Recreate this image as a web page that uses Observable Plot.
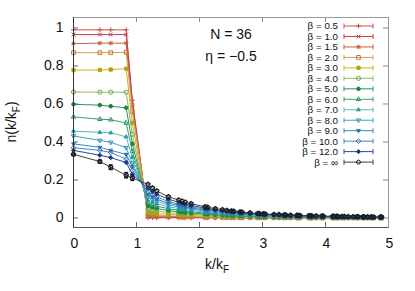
<!DOCTYPE html>
<html><head><meta charset="utf-8">
<script src="https://cdn.jsdelivr.net/npm/d3@7"></script>
<script src="https://cdn.jsdelivr.net/npm/@observablehq/plot@0.6"></script>
<style>body{margin:0;background:#fff;} #chart{width:415px;height:291px;}</style>
</head><body><div id="chart"></div>
<script>
// momentum grid k/kF (2D shells)
const kValues = [0,0.418,0.591,0.836,0.934,
 1.182,1.253,1.321,1.506,1.671,1.723,1.772,1.868,
 2.089,2.130,2.250,2.363,2.436,2.507,2.541,2.642,2.675,2.803,2.924,2.954,
 3.013,3.042,3.182,3.263,3.342,3.368,3.445,3.545,3.570,3.594,3.737,3.760,3.783,3.852,3.941,3.963,
 4.115,4.136,4.178,4.199,4.261,4.301,4.362,4.441,4.500,4.519,4.596,4.615,4.671,4.727,4.763,4.872,4.890];

const betaLabels = ["β = 0.5","β = 1.0","β = 1.5","β = 2.0","β = 3.0","β = 4.0","β = 5.0","β = 6.0","β = 7.0","β = 8.0","β = 9.0","β = 10.0","β = 12.0","β = ∞"];

const n_b05 = [0.990,0.990,0.990,0.990,0.62,
 0.002,0.002,0.001,0.001,0.001,0.001,0.001,0.001,
 0.001,0.001,0.001,0.001,0.001,0.001,0.001,0.001,0.001,0.001,0.001,0.001,
 0.001,0.001,0.001,0.001,0.001,0.001,0.001,0.001,0.001,0.001,0.001,0.001,0.001,0.001,0.001,0.001,
 0.001,0.001,0.001,0.001,0.001,0.001,0.001,0.001,0.001,0.001,0.001,0.001,0.001,0.001,0.001,0.001,0.001];
const n_b10 = [0.965,0.965,0.965,0.965,0.61,
 0.005,0.005,0.004,0.003,0.003,0.003,0.002,0.002,
 0.002,0.002,0.002,0.002,0.002,0.002,0.001,0.001,0.001,0.001,0.001,0.001,
 0.001,0.001,0.001,0.001,0.001,0.001,0.001,0.001,0.001,0.001,0.001,0.001,0.001,0.001,0.001,0.001,
 0.001,0.001,0.001,0.001,0.001,0.001,0.001,0.001,0.001,0.001,0.001,0.001,0.001,0.001,0.001,0.001,0.001];
const n_b15 = [0.918,0.920,0.920,0.920,0.59,
 0.012,0.011,0.010,0.008,0.007,0.006,0.006,0.005,
 0.004,0.004,0.003,0.003,0.003,0.003,0.003,0.002,0.002,0.002,0.002,0.002,
 0.002,0.001,0.001,0.001,0.001,0.001,0.001,0.001,0.001,0.001,0.001,0.001,0.001,0.001,0.001,0.001,
 0.001,0.001,0.001,0.001,0.001,0.001,0.001,0.001,0.001,0.001,0.001,0.001,0.001,0.001,0.001,0.001,0.001];
const n_b20 = [0.870,0.870,0.870,0.872,0.56,
 0.018,0.016,0.014,0.011,0.009,0.009,0.008,0.008,
 0.006,0.006,0.005,0.004,0.004,0.004,0.004,0.003,0.003,0.003,0.002,0.002,
 0.002,0.002,0.002,0.002,0.002,0.002,0.002,0.002,0.001,0.001,0.001,0.001,0.001,0.001,0.001,0.001,
 0.001,0.001,0.001,0.001,0.001,0.001,0.001,0.001,0.001,0.001,0.001,0.001,0.001,0.001,0.001,0.001,0.001];
const n_b30 = [0.778,0.779,0.781,0.786,0.50,
 0.030,0.027,0.024,0.019,0.016,0.015,0.014,0.013,
 0.010,0.010,0.008,0.007,0.007,0.006,0.006,0.005,0.005,0.005,0.004,0.004,
 0.004,0.004,0.003,0.003,0.003,0.003,0.003,0.002,0.002,0.002,0.002,0.002,0.002,0.002,0.002,0.002,
 0.002,0.002,0.002,0.001,0.001,0.001,0.001,0.001,0.001,0.001,0.001,0.001,0.001,0.001,0.001,0.001,0.001];
const n_b40 = [0.663,0.662,0.662,0.662,0.44,
 0.046,0.041,0.037,0.029,0.024,0.023,0.022,0.020,
 0.015,0.015,0.013,0.011,0.010,0.010,0.009,0.008,0.008,0.007,0.006,0.006,
 0.006,0.005,0.005,0.005,0.004,0.004,0.004,0.004,0.003,0.003,0.003,0.003,0.003,0.003,0.003,0.003,
 0.002,0.002,0.002,0.002,0.002,0.002,0.002,0.002,0.002,0.002,0.002,0.002,0.002,0.002,0.001,0.001,0.001];
const n_b50 = [0.598,0.594,0.588,0.580,0.39,
 0.062,0.055,0.050,0.039,0.033,0.031,0.029,0.026,
 0.021,0.020,0.017,0.015,0.014,0.013,0.013,0.011,0.011,0.009,0.008,0.008,
 0.008,0.007,0.007,0.006,0.006,0.006,0.005,0.005,0.005,0.005,0.004,0.004,0.004,0.004,0.004,0.004,
 0.003,0.003,0.003,0.003,0.003,0.003,0.002,0.002,0.002,0.002,0.002,0.002,0.002,0.002,0.002,0.002,0.002];
const n_b60 = [0.532,0.520,0.517,0.500,0.35,
 0.078,0.070,0.062,0.049,0.041,0.039,0.037,0.033,
 0.026,0.025,0.022,0.019,0.018,0.016,0.016,0.014,0.014,0.012,0.011,0.010,
 0.010,0.009,0.008,0.008,0.007,0.007,0.007,0.006,0.006,0.006,0.005,0.005,0.005,0.005,0.004,0.004,
 0.004,0.004,0.004,0.004,0.004,0.004,0.003,0.003,0.003,0.003,0.003,0.003,0.003,0.003,0.002,0.002,0.002];
const n_b70 = [0.457,0.451,0.448,0.427,0.32,
 0.094,0.084,0.075,0.059,0.050,0.047,0.044,0.040,
 0.031,0.030,0.026,0.023,0.021,0.020,0.019,0.017,0.016,0.014,0.013,0.012,
 0.012,0.011,0.010,0.010,0.008,0.008,0.008,0.007,0.007,0.007,0.006,0.006,0.006,0.006,0.005,0.005,
 0.005,0.005,0.005,0.004,0.004,0.004,0.004,0.004,0.004,0.004,0.003,0.003,0.003,0.003,0.003,0.003,0.003];
const n_b80 = [0.432,0.408,0.398,0.370,0.29,
 0.110,0.098,0.088,0.069,0.058,0.055,0.051,0.047,
 0.037,0.035,0.030,0.027,0.025,0.023,0.022,0.020,0.019,0.017,0.015,0.014,
 0.014,0.013,0.012,0.011,0.010,0.010,0.009,0.009,0.008,0.008,0.007,0.007,0.007,0.007,0.006,0.006,
 0.006,0.006,0.006,0.005,0.005,0.005,0.004,0.004,0.004,0.004,0.004,0.004,0.004,0.004,0.003,0.003,0.003];
const n_b90 = [0.390,0.372,0.356,0.335,0.27,
 0.124,0.111,0.099,0.078,0.066,0.062,0.058,0.053,
 0.041,0.039,0.034,0.031,0.028,0.026,0.025,0.022,0.022,0.019,0.017,0.016,
 0.015,0.015,0.013,0.013,0.011,0.011,0.011,0.010,0.009,0.009,0.008,0.008,0.008,0.008,0.007,0.007,
 0.006,0.006,0.006,0.006,0.006,0.006,0.005,0.005,0.005,0.005,0.004,0.004,0.004,0.004,0.004,0.004,0.004];
const n_b100 = [0.370,0.356,0.345,0.310,0.25,
 0.138,0.123,0.111,0.087,0.073,0.069,0.065,0.059,
 0.046,0.044,0.038,0.034,0.031,0.029,0.028,0.025,0.024,0.021,0.019,0.018,
 0.017,0.016,0.015,0.014,0.012,0.012,0.012,0.011,0.010,0.010,0.009,0.009,0.009,0.009,0.008,0.008,
 0.007,0.007,0.007,0.006,0.006,0.006,0.005,0.005,0.005,0.005,0.005,0.005,0.005,0.005,0.004,0.004,0.004];
const n_b120 = [0.356,0.330,0.318,0.292,0.23,
 0.156,0.139,0.125,0.099,0.083,0.077,0.073,0.066,
 0.052,0.049,0.043,0.039,0.035,0.033,0.032,0.028,0.027,0.024,0.021,0.020,
 0.019,0.018,0.017,0.016,0.014,0.014,0.013,0.012,0.011,0.011,0.011,0.011,0.010,0.010,0.009,0.009,
 0.008,0.008,0.008,0.007,0.007,0.007,0.006,0.006,0.006,0.006,0.005,0.005,0.005,0.005,0.004,0.004,0.004];
const n_inf = [0.335,0.297,0.267,0.225,0.21,
 0.177,0.158,0.142,0.112,0.094,0.088,0.083,0.075,
 0.059,0.056,0.049,0.044,0.040,0.037,0.036,0.032,0.031,0.027,0.024,0.023,
 0.022,0.021,0.019,0.018,0.016,0.016,0.015,0.014,0.013,0.013,0.012,0.012,0.011,0.011,0.010,0.010,
 0.009,0.009,0.009,0.008,0.008,0.008,0.007,0.007,0.007,0.007,0.006,0.006,0.006,0.006,0.005,0.005,0.005];
// error bars of beta = infinity (first shells)
const err_inf = [0.004,0.008,0.012,0.014,0.012];

const yTicks = [0,0.2,0.4,0.6,0.8,1];
const xTicks = [0,1,2,3,4,5];

const allSeries = [n_b05,n_b10,n_b15,n_b20,n_b30,n_b40,n_b50,n_b60,n_b70,n_b80,n_b90,n_b100,n_b120,n_inf];
const colors = ["#c8504a","#c23c4c","#c4603c","#d49a5c","#c8b818","#8cbc64","#2e9450","#3aa068","#5cb8b8","#3ca4cc","#3688c0","#4f82b4","#24489a","#404040"];
const markColors = ["#c8504a","#c23c4c","#c4603c","#c87830","#b4a400","#70a850","#1e8040","#22905a","#20a0a0","#3090c0","#2878b0","#3870a8","#183880","#1c1c24"];

const S = s => Math.sqrt(s / Math.PI);
const sym = {
  plus:{draw(c,s){const r=S(s)*1.2;c.moveTo(-r,0);c.lineTo(r,0);c.moveTo(0,-r);c.lineTo(0,r);}},
  times:{draw(c,s){const r=S(s)*0.9;c.moveTo(-r,-r);c.lineTo(r,r);c.moveTo(-r,r);c.lineTo(r,-r);}},
  star:{draw(c,s){const r=S(s)*1.1,q=r*0.75;c.moveTo(-r,0);c.lineTo(r,0);c.moveTo(0,-r);c.lineTo(0,r);c.moveTo(-q,-q);c.lineTo(q,q);c.moveTo(-q,q);c.lineTo(q,-q);}},
  square:{draw(c,s){const r=S(s)*0.9;c.moveTo(-r,-r);c.lineTo(r,-r);c.lineTo(r,r);c.lineTo(-r,r);c.closePath();}},
  circle:{draw(c,s){const r=S(s);c.moveTo(r,0);c.arc(0,0,r,0,2*Math.PI);c.closePath();}},
  triUp:{draw(c,s){const r=S(s)*1.2;c.moveTo(0,-r);c.lineTo(r*0.866,r*0.5);c.lineTo(-r*0.866,r*0.5);c.closePath();}},
  triDown:{draw(c,s){const r=S(s)*1.2;c.moveTo(0,r);c.lineTo(r*0.866,-r*0.5);c.lineTo(-r*0.866,-r*0.5);c.closePath();}},
  diamond:{draw(c,s){const r=S(s)*1.15;c.moveTo(0,-r);c.lineTo(r,0);c.lineTo(0,r);c.lineTo(-r,0);c.closePath();}},
  pentagon:{draw(c,s){const r=S(s)*1.05;for(let i=0;i<5;i++){const a=-Math.PI/2+i*2*Math.PI/5;const x=r*Math.cos(a),y=r*Math.sin(a);if(i)c.lineTo(x,y);else c.moveTo(x,y);}c.closePath();}},
  cap:{draw(c,s){c.moveTo(-2,0);c.lineTo(2,0);}}
};
const markerTypes = [["plus",0],["times",0],["star",0],["square",0],["square",1],["circle",0],["circle",1],["triUp",0],["triUp",1],["triDown",0],["triDown",1],["diamond",0],["diamond",1],["pentagon",0]];
const rOpen = 2.1, rFilled = 1.8;

const rowsFor = i => allSeries[i].map((v,j)=>({k:kValues[j], n:v}));
const errRows = err_inf.map((e,j)=>({k:kValues[j], lo:n_inf[j]-e, hi:n_inf[j]+e}));

const W=415,H=291,ML=73,MR=27,MT=17,MB=64;
const FW=W-ML-MR, FH=H-MT-MB;
const yDomain=[-0.05,1.055];

const marks = [];
marks.push(Plot.ruleY(yTicks,{stroke:"#666",insetRight:FW-5}));
marks.push(Plot.ruleY(yTicks,{stroke:"#888",insetLeft:FW-5}));
marks.push(Plot.ruleX(xTicks,{stroke:"#666",insetTop:FH-5}));
marks.push(Plot.ruleX(xTicks,{stroke:"#888",insetBottom:FH-5}));
allSeries.forEach((_,i)=>{
  const rows=rowsFor(i);
  const [st,filled]=markerTypes[i];
  marks.push(Plot.line(rows,{x:"k",y:"n",stroke:colors[i],strokeWidth:1}));
  if(i===allSeries.length-1){
    marks.push(Plot.ruleX(errRows,{x:"k",y1:"lo",y2:"hi",stroke:markColors[i],strokeWidth:1}));
    marks.push(Plot.dot(errRows,{x:"k",y:"lo",symbol:sym.cap,r:2,stroke:markColors[i]}));
    marks.push(Plot.dot(errRows,{x:"k",y:"hi",symbol:sym.cap,r:2,stroke:markColors[i]}));
  }
  marks.push(Plot.dot(rows,{x:"k",y:"n",symbol:sym[st],r:filled?rFilled:rOpen,stroke:markColors[i],fill:filled?markColors[i]:"none",strokeWidth:i===allSeries.length-1?1.3:1}));
});
marks.push(Plot.frame({stroke:"#999"}));
marks.push(Plot.ruleX([0],{stroke:"#333"}));
marks.push(Plot.ruleY([yDomain[0]],{stroke:"#555"}));
marks.push(Plot.axisY({ticks:yTicks,tickSize:0,tickPadding:10,tickFormat:d=>String(d),label:null,fontSize:14}));
marks.push(Plot.axisX({ticks:xTicks,tickSize:0,tickPadding:11,tickFormat:d=>String(d),label:null,fontSize:14,dx:1}));

const svg = Plot.plot({
  width:W,height:H,marginLeft:ML,marginRight:MR,marginTop:MT,marginBottom:MB,
  x:{domain:[0,5]}, y:{domain:yDomain},
  style:{fontFamily:"'Liberation Sans', Arial, sans-serif",fontSize:"14px",color:"#111",background:"#fff"},
  marks
});
document.getElementById("chart").appendChild(svg);

const g = d3.select(svg).append("g").attr("font-family","'Liberation Sans', Arial, sans-serif").attr("fill","#111");
// axis titles
const xl = g.append("text").attr("x",217).attr("y",269).attr("font-size",14);
xl.append("tspan").text("k/k");
xl.append("tspan").attr("dy",4).attr("font-size",10).text("F");
const yl = g.append("text").attr("transform","translate(16,122) rotate(-90)").attr("text-anchor","middle").attr("font-size",14);
yl.append("tspan").text("n(k/k");
yl.append("tspan").attr("dy",4).attr("font-size",10).text("F");
yl.append("tspan").attr("dy",-4).text(")");
// annotations
g.append("text").attr("x",231).attr("y",39).attr("font-size",14).text("N = 36");
g.append("text").attr("x",231).attr("y",60.5).attr("font-size",14).text("η = −0.5");
// legend
betaLabels.forEach((lab,i)=>{
  const y = 26 + i*10.47;
  g.append("text").attr("x",338).attr("y",y).attr("dy","0.35em").attr("text-anchor","end").attr("font-size",9.8).text(lab);
  g.append("line").attr("x1",344).attr("x2",373).attr("y1",y).attr("y2",y).attr("stroke",colors[i]).attr("stroke-width",1);
  [344,373].forEach(x=>g.append("line").attr("x1",x).attr("x2",x).attr("y1",y-2.5).attr("y2",y+2.5).attr("stroke",colors[i]));
  const [st,filled]=markerTypes[i];
  const r = filled?rFilled:rOpen;
  g.append("path").attr("transform",`translate(358.5,${y})`)
   .attr("d", d3.symbol().type(sym[st]).size(r*r*Math.PI)())
   .attr("stroke",markColors[i]).attr("fill",filled?markColors[i]:"none");
});
</script>
</body></html>
